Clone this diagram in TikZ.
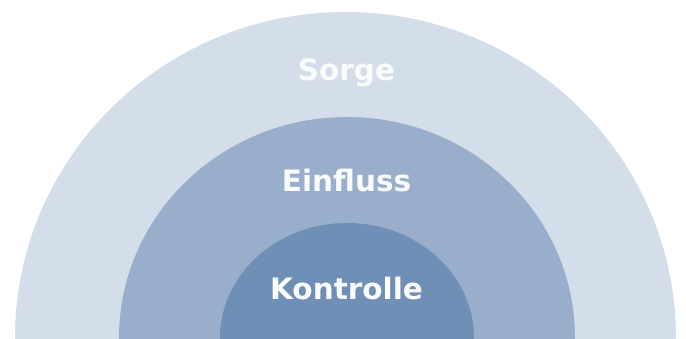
\documentclass[tikz,border=0pt]{standalone}
\usepackage{fontspec}
\setmainfont{DejaVu Sans}
\definecolor{ringout}{RGB}{212,222,234}
\definecolor{ringmid}{RGB}{152,174,202}
\definecolor{ringin}{RGB}{111,143,183}
\definecolor{labeltext}{RGB}{250,251,253}
\tikzset{
  ringlabel/.style={anchor=base, text=labeltext, inner sep=0pt,
    font=\fontsize{29.5}{34}\selectfont\bfseries}
}
\begin{document}
\begin{tikzpicture}[x=1pt,y=1pt]
\useasboundingbox (0,0) rectangle (686,338);
\fill[white] (0,0) rectangle (686,338);
\begin{scope}
\clip (0,0) rectangle (686,338);
% outer ring (Sorge)
\fill[ringout] (345.5,0) ellipse [x radius=330.5, y radius=326];
% middle ring (Einfluss)
\fill[ringmid] (347,0) ellipse [x radius=228, y radius=221];
% inner ring (Kontrolle)
\fill[ringin] (347,0) ellipse [x radius=127, y radius=115];
\end{scope}
\node[ringlabel] (sorge) at (346.5,257) {Sorge};
\node[ringlabel] (einfluss) at (346.5,146.3) {Einfluss};
\node[ringlabel] (kontrolle) at (346.5,38.7) {Kontrolle};
\end{tikzpicture}
\end{document}
